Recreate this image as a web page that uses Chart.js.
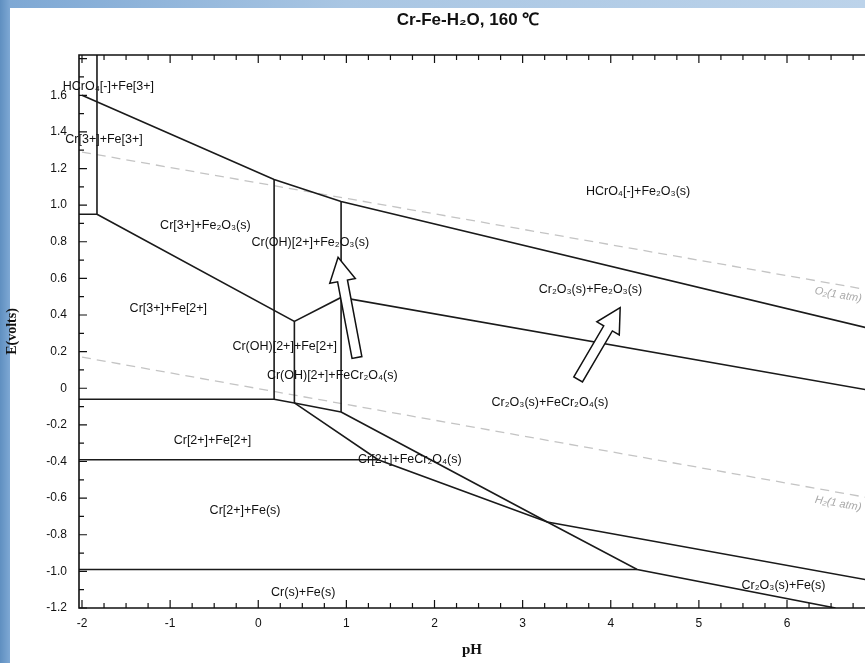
<!DOCTYPE html>
<html><head><meta charset="utf-8">
<script src="https://cdn.jsdelivr.net/npm/chart.js@4"></script>
<style>
html,body{margin:0;padding:0;width:865px;height:663px;overflow:hidden;}
body{background:linear-gradient(90deg,#5f8fc0 0px,#7ea8d4 10px,#a9c6e3 40%,#bcd3ea 100%);}
#panel{position:absolute;left:10px;top:8px;width:855px;height:655px;background:#fff;}
#wrap{position:absolute;left:0;top:0;width:865px;height:663px;}
</style></head><body>
<div id="panel"></div>
<div id="wrap"><canvas id="c" width="865" height="663"></canvas></div>
<script>
// axis ranges
const xMin=-2.034, xMax=6.885, yMin=-1.2, yMax=1.82;
const xTickLabels=[-2,-1,0,1,2,3,4,5,6];
const yTickLabels=[-1.2,-1.0,-0.8,-0.6,-0.4,-0.2,0,0.2,0.4,0.6,0.8,1.0,1.2,1.4,1.6];
// boundary lines [pH, E]
const upperLine=[[-2,1.6],[0.18,1.14],[0.94,1.02],[6.89,0.332]];
const vertLeft=[[-1.83,1.82],[-1.83,0.95],[-2.034,0.95]];
const cr3fe2Line=[[-1.83,0.95],[0.41,0.365],[0.94,0.496],[6.89,-0.007]];
const vert018=[[0.18,1.14],[0.18,-0.06]];
const vert041=[[0.41,0.365],[0.41,-0.08]];
const vert094=[[0.94,1.02],[0.94,-0.13]];
const lowerStep=[[-2.034,-0.06],[0.18,-0.06],[0.41,-0.08],[0.94,-0.13]];
const lineA=[[0.41,-0.08],[1.36,-0.39],[3.28,-0.73],[6.89,-1.045]];
const lineB=[[0.94,-0.13],[3.28,-0.73],[4.3,-0.99],[6.55,-1.2]];
const hLine039=[[-2.034,-0.39],[1.36,-0.39]];
const hLine099=[[-2.034,-0.99],[4.3,-0.99]];
const o2Line=[[-2,1.29],[6.89,0.54]];
const h2Line=[[-2,0.17],[6.89,-0.595]];
// arrows [tail, tip]
const arrows=[[[1.12,0.168],[0.906,0.715]],[[3.63,0.048],[4.107,0.44]]];
// region labels [text, pH, E]
const regionLabels=[
 ["HCrO₄[-]+Fe[3+]",-1.7,1.645],
 ["Cr[3+]+Fe[3+]",-1.75,1.36],
 ["Cr[3+]+Fe₂O₃(s)",-0.6,0.89],
 ["Cr(OH)[2+]+Fe₂O₃(s)",0.59,0.795],
 ["HCrO₄[-]+Fe₂O₃(s)",4.31,1.075],
 ["Cr[3+]+Fe[2+]",-1.02,0.436],
 ["Cr(OH)[2+]+Fe[2+]",0.3,0.23],
 ["Cr(OH)[2+]+FeCr₂O₄(s)",0.84,0.07],
 ["Cr₂O₃(s)+Fe₂O₃(s)",3.77,0.54],
 ["Cr₂O₃(s)+FeCr₂O₄(s)",3.31,-0.08],
 ["Cr[2+]+Fe[2+]",-0.52,-0.285],
 ["Cr[2+]+FeCr₂O₄(s)",1.72,-0.39],
 ["Cr[2+]+Fe(s)",-0.15,-0.67],
 ["Cr(s)+Fe(s)",0.51,-1.116],
 ["Cr₂O₃(s)+Fe(s)",5.96,-1.08]
];
const gasLabels=[["O₂(1 atm)",6.58,0.51],["H₂(1 atm)",6.58,-0.63]];

const solid=[upperLine,vertLeft,cr3fe2Line,vert018,vert041,vert094,lowerStep,lineA,lineB,hLine039,hLine099];
const datasets=[];
solid.forEach(l=>datasets.push({data:l.map(p=>({x:p[0],y:p[1]})),borderColor:'#1a1a1a',borderWidth:1.6,pointRadius:0,tension:0}));
[o2Line,h2Line].forEach(l=>datasets.push({data:l.map(p=>({x:p[0],y:p[1]})),borderColor:'#c4c4c4',borderWidth:1.3,borderDash:[9,6],pointRadius:0}));

const deco={id:'deco',
 afterDatasetsDraw(ch){
  const c=ch.ctx,xs=ch.scales.x,ys=ch.scales.y,a=ch.chartArea;
  c.save();
  c.strokeStyle='#111';c.lineWidth=1.6;
  c.beginPath();c.moveTo(a.right+2,a.top);c.lineTo(a.left,a.top);c.lineTo(a.left,a.bottom);c.lineTo(a.right+2,a.bottom);c.stroke();
  c.lineWidth=1.2;c.beginPath();
  for(let v=-2;v<=xMax+1e-6;v+=0.25){const X=xs.getPixelForValue(v);const maj=Math.abs(v-Math.round(v))<1e-6;const L=maj?8:5;
   c.moveTo(X,a.bottom);c.lineTo(X,a.bottom-L);c.moveTo(X,a.top);c.lineTo(X,a.top+L);}
  for(let v=-1.2;v<=yMax+1e-6;v+=0.1){const Y=ys.getPixelForValue(v);const maj=Math.abs(v*5-Math.round(v*5))<1e-6;const L=maj?8:5;
   c.moveTo(a.left,Y);c.lineTo(a.left+L,Y);}
  c.stroke();
  arrows.forEach(([t,h])=>{
   const x0=xs.getPixelForValue(t[0]),y0=ys.getPixelForValue(t[1]),x1=xs.getPixelForValue(h[0]),y1=ys.getPixelForValue(h[1]);
   const ang=Math.atan2(y1-y0,x1-x0),len=Math.hypot(x1-x0,y1-y0);
   c.save();c.translate(x0,y0);c.rotate(ang);
   const hw=5,hh=13,hl=24;
   c.beginPath();c.moveTo(0,-hw);c.lineTo(len-hl,-hw);c.lineTo(len-hl,-hh);c.lineTo(len,0);c.lineTo(len-hl,hh);c.lineTo(len-hl,hw);c.lineTo(0,hw);c.closePath();
   c.fillStyle='#fff';c.fill();c.strokeStyle='#111';c.lineWidth=1.5;c.stroke();c.restore();
  });
  c.fillStyle='#111';c.font='12.5px "Liberation Sans", Arial, sans-serif';c.textAlign='center';c.textBaseline='middle';
  regionLabels.forEach(([t,x,y])=>c.fillText(t,xs.getPixelForValue(x),ys.getPixelForValue(y)));
  c.fillStyle='#aaa';c.font='italic 11px "Liberation Sans", Arial, sans-serif';
  gasLabels.forEach(([t,x,y])=>{c.save();c.translate(xs.getPixelForValue(x),ys.getPixelForValue(y));c.rotate(0.17);c.fillText(t,0,0);c.restore();});
  c.fillStyle='#111';c.font='bold 17px "Liberation Sans", Arial, sans-serif';
  c.fillText('Cr-Fe-H₂O, 160 ℃',468,20);
  c.restore();
 }};

new Chart(document.getElementById('c'),{
 type:'line',
 data:{datasets},
 options:{responsive:false,animation:false,
  layout:{padding:{top:55,left:0,right:0,bottom:0}},
  plugins:{legend:{display:false},tooltip:{enabled:false}},
  scales:{
   x:{type:'linear',min:xMin,max:xMax,grid:{display:false,drawTicks:false},border:{display:false},
      afterFit(s){s.height=55;},
      afterBuildTicks(s){s.ticks=xTickLabels.map(v=>({value:v}));},
      ticks:{color:'#111',padding:8,font:{size:12,family:'"Liberation Sans", Arial'},callback:v=>String(v),maxRotation:0},
      title:{display:true,text:'pH',color:'#111',font:{size:15,weight:'bold',family:'"Liberation Serif", serif'},padding:{top:2}}},
   y:{type:'linear',min:yMin,max:yMax,grid:{display:false,drawTicks:false},border:{display:false},
      afterFit(s){s.width=79;},
      afterBuildTicks(s){s.ticks=yTickLabels.map(v=>({value:v}));},
      ticks:{color:'#111',padding:12,font:{size:12,family:'"Liberation Sans", Arial'},callback:v=>v===0?'0':Number(v).toFixed(1)},
      title:{display:true,text:'E(volts)',color:'#111',font:{size:14,weight:'bold',family:'"Liberation Serif", serif'},padding:{bottom:0}}}
  }},
 plugins:[deco]
});
</script></body></html>
